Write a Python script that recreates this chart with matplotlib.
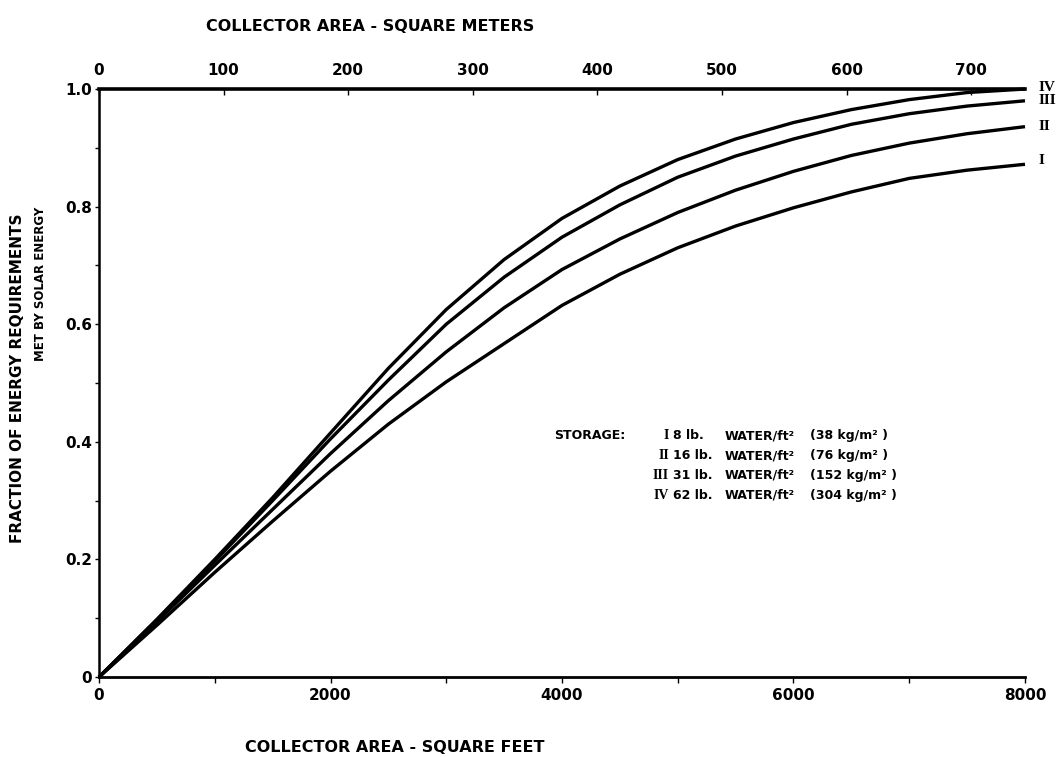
import numpy as np
import matplotlib
matplotlib.use("Agg")
import matplotlib.pyplot as plt

plt.rcParams['font.family'] = ['DejaVu Sans']
plt.rcParams['font.weight'] = 'bold'

# collector area, square feet
area_ft2 = [0, 500, 1000, 1500, 2000, 2500, 3000, 3500, 4000, 4500,
            5000, 5500, 6000, 6500, 7000, 7500, 8000]
# fraction met by solar energy, storage cases I..IV
frac_I = [0, 0.088, 0.178, 0.265, 0.35, 0.43, 0.502, 0.567, 0.632, 0.685,
          0.73, 0.767, 0.798, 0.825, 0.848, 0.862, 0.872]
frac_II = [0, 0.094, 0.19, 0.285, 0.38, 0.47, 0.553, 0.628, 0.693, 0.745,
           0.79, 0.828, 0.86, 0.887, 0.908, 0.924, 0.936]
frac_III = [0, 0.097, 0.197, 0.30, 0.405, 0.505, 0.60, 0.68, 0.748, 0.803,
            0.85, 0.886, 0.915, 0.94, 0.958, 0.971, 0.98]
frac_IV = [0, 0.098, 0.20, 0.305, 0.415, 0.525, 0.625, 0.71, 0.78, 0.835,
           0.88, 0.915, 0.943, 0.965, 0.982, 0.994, 1.0]

curve_names = ['I', 'II', 'III', 'IV']
storage_lb = ['8', '16', '31', '62']
storage_kg = ['38', '76', '152', '304']

x_ticks = [0, 2000, 4000, 6000, 8000]
y_ticks = [0, 0.2, 0.4, 0.6, 0.8, 1.0]
y_labels = ['0', '0.2', '0.4', '0.6', '0.8', '1.0']
m2_ticks = [0, 100, 200, 300, 400, 500, 600, 700]

FT2_PER_M2 = 10.7639

fig = plt.figure(figsize=(10.58, 7.57), dpi=100)
ax = fig.add_axes([0.0936, 0.1057, 0.8752, 0.7767])

curves = [frac_I, frac_II, frac_III, frac_IV]
label_dy = [3, 0, 0, 1]
for name, y, dy in zip(curve_names, curves, label_dy):
    ax.plot(area_ft2, y, color='black', lw=2.4, solid_capstyle='butt',
            solid_joinstyle='round', clip_on=False)
    ax.annotate(name, xy=(area_ft2[-1], y[-1]), xytext=(10, dy), textcoords='offset points',
                ha='left', va='center', fontsize=11, family='Liberation Serif',
                annotation_clip=False)

ax.set_xlim(0, 8000)
ax.set_ylim(0, 1.0)
ax.spines['right'].set_visible(False)
ax.spines['top'].set_linewidth(2.6)
ax.spines['bottom'].set_linewidth(2.0)
ax.spines['left'].set_linewidth(1.8)

ax.set_xticks(x_ticks)
ax.set_xticks(np.arange(0, 8001, 1000), minor=True)
ax.set_yticks(y_ticks)
ax.set_yticklabels(y_labels)
ax.set_yticks(np.arange(0, 1.01, 0.1), minor=True)
ax.tick_params(axis='x', which='both', direction='out', length=4, width=1, labelsize=11, pad=4)
ax.tick_params(axis='y', which='both', direction='out', length=3, width=1, labelsize=11, pad=2)

sec = ax.secondary_xaxis('top', functions=(lambda x: x / FT2_PER_M2, lambda m: m * FT2_PER_M2))
sec.set_xticks(m2_ticks)
sec.tick_params(direction='in', length=4, width=1, labelsize=11, pad=8)
sec.spines['top'].set_visible(False)

fig.text(0.35, 0.965, 'COLLECTOR AREA - SQUARE METERS', ha='center', va='center', fontsize=11.5)
fig.text(0.373, 0.012, 'COLLECTOR AREA - SQUARE FEET', ha='center', va='center', fontsize=11.5)
fig.text(0.017, 1 - 378 / 757, 'FRACTION OF ENERGY REQUIREMENTS', rotation=90,
         ha='center', va='center', fontsize=11)
fig.text(0.038, 1 - 284 / 757, 'MET BY SOLAR ENERGY', rotation=90,
         ha='center', va='center', fontsize=8.5)

# storage legend block
leg_y0 = 0.41
leg_dy = 0.0335
ax.text(4544, leg_y0, 'STORAGE:', ha='right', va='center', fontsize=9)
for i, (name, lb, kg) in enumerate(zip(curve_names, storage_lb, storage_kg)):
    yy = leg_y0 - i * leg_dy
    ax.text(4924, yy, name, ha='right', va='center', fontsize=10, family='Liberation Serif')
    ax.text(4959, yy, f'{lb} lb.', ha='left', va='center', fontsize=9)
    ax.text(5408, yy, 'WATER/ft²', ha='left', va='center', fontsize=9)
    ax.text(6140, yy, f'({kg} kg/m² )', ha='left', va='center', fontsize=9)

fig.savefig('out.png', dpi=100, facecolor='white')
